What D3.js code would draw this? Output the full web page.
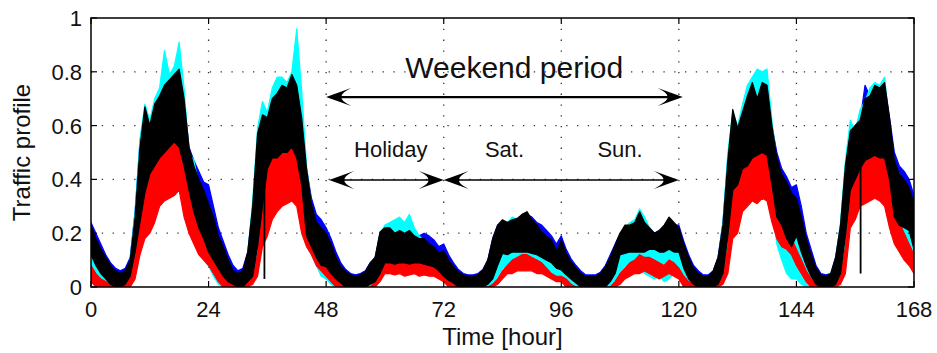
<!DOCTYPE html>
<html>
<head>
<meta charset="utf-8">
<script src="https://cdn.jsdelivr.net/npm/d3@7"></script>
<style>
  body { margin: 0; background: #fff; }
  svg { display: block; font-family: "Liberation Sans", Arial, sans-serif; }
  .tick-label { font-size: 22px; fill: #111; }
  .axis-label { font-size: 24px; fill: #111; }
  .note { font-size: 22px; fill: #111; }
</style>
</head>
<body>
<svg id="chart" width="937" height="353"></svg>
<script>
// hourly envelopes (lo / hi) of each traffic trace, hours 0..168
var blackHi = [
  0.23,0.18,0.14,0.11,0.08,0.06,0.05,0.06,0.10,0.26,0.52,0.67,0.60,0.68,0.71,0.75,0.77,0.79,0.81,0.70,0.52,0.45,0.40,0.36,
  0.31,0.26,0.19,0.15,0.10,0.06,0.05,0.06,0.13,0.30,0.57,0.64,0.63,0.70,0.72,0.75,0.74,0.79,0.75,0.63,0.44,0.31,0.24,0.22,
  0.20,0.16,0.11,0.076,0.057,0.045,0.04,0.045,0.057,0.09,0.11,0.205,0.22,0.22,0.20,0.21,0.20,0.21,0.19,0.18,0.18,0.16,0.15,0.125,
  0.135,0.10,0.076,0.057,0.045,0.04,0.04,0.045,0.063,0.10,0.18,0.23,0.25,0.24,0.25,0.255,0.27,0.28,0.25,0.23,0.205,0.19,0.175,0.135,
  0.175,0.125,0.094,0.07,0.05,0.04,0.04,0.04,0.05,0.076,0.11,0.156,0.20,0.23,0.23,0.24,0.28,0.24,0.22,0.20,0.21,0.23,0.26,0.24,
  0.22,0.16,0.11,0.07,0.05,0.04,0.04,0.06,0.11,0.23,0.47,0.66,0.59,0.65,0.71,0.76,0.70,0.76,0.75,0.60,0.48,0.42,0.39,0.35,
  0.33,0.26,0.18,0.12,0.07,0.045,0.04,0.05,0.11,0.23,0.45,0.58,0.60,0.62,0.70,0.71,0.75,0.74,0.76,0.63,0.47,0.42,0.40,0.37,
  0.31];
var blackLo = [
  0.12,0.08,0.05,0.03,0.01,0.0,0.0,0.01,0.04,0.13,0.24,0.35,0.42,0.45,0.48,0.50,0.52,0.54,0.52,0.45,0.36,0.28,0.22,0.18,
  0.13,0.10,0.07,0.04,0.02,0.01,0.0,0.0,0.02,0.04,0.15,0.30,0.44,0.48,0.48,0.50,0.50,0.52,0.48,0.38,0.19,0.15,0.11,0.08,
  0.076,0.05,0.03,0.015,0.0,0.0,0.0,0.0,0.0,0.01,0.02,0.05,0.09,0.09,0.085,0.09,0.09,0.085,0.09,0.09,0.085,0.08,0.075,0.06,
  0.04,0.025,0.015,0.0,0.0,0.0,0.0,0.0,0.0,0.01,0.03,0.08,0.125,0.12,0.13,0.13,0.13,0.13,0.125,0.12,0.11,0.10,0.09,0.07,
  0.063,0.045,0.03,0.015,0.0,0.0,0.0,0.0,0.0,0.0,0.02,0.05,0.12,0.125,0.13,0.13,0.13,0.13,0.14,0.14,0.13,0.13,0.14,0.13,
  0.13,0.07,0.03,0.01,0.0,0.0,0.0,0.0,0.01,0.05,0.19,0.36,0.38,0.44,0.45,0.48,0.49,0.50,0.49,0.38,0.26,0.23,0.18,0.15,
  0.19,0.13,0.08,0.04,0.01,0.0,0.0,0.0,0.01,0.05,0.19,0.36,0.40,0.44,0.47,0.48,0.49,0.48,0.48,0.40,0.26,0.23,0.22,0.21,
  0.14];
var redHi = [
  0.08,0.05,0.03,0.02,0.01,0.01,0.01,0.02,0.05,0.12,0.24,0.36,0.44,0.47,0.50,0.52,0.54,0.55,0.54,0.46,0.40,0.32,0.25,0.20,
  0.16,0.12,0.08,0.05,0.02,0.01,0.01,0.01,0.02,0.05,0.12,0.30,0.45,0.48,0.49,0.50,0.51,0.52,0.49,0.42,0.30,0.20,0.14,0.10,
  0.08,0.05,0.03,0.01,0.0,0.0,0.0,0.0,0.0,0.0,0.02,0.06,0.10,0.10,0.095,0.10,0.10,0.09,0.10,0.10,0.09,0.085,0.08,0.07,
  0.05,0.03,0.01,0.0,0.0,0.0,0.0,0.0,0.0,0.0,0.01,0.03,0.06,0.08,0.10,0.11,0.12,0.12,0.11,0.10,0.09,0.07,0.05,0.04,
  0.04,0.03,0.01,0.0,0.0,0.0,0.0,0.0,0.0,0.0,0.0,0.02,0.05,0.07,0.09,0.10,0.12,0.11,0.11,0.10,0.09,0.08,0.10,0.09,
  0.07,0.04,0.02,0.01,0.0,0.0,0.0,0.0,0.01,0.04,0.15,0.38,0.42,0.46,0.48,0.50,0.50,0.51,0.50,0.44,0.30,0.26,0.22,0.18,
  0.14,0.10,0.06,0.03,0.01,0.0,0.0,0.0,0.01,0.04,0.15,0.36,0.44,0.46,0.47,0.49,0.50,0.49,0.48,0.42,0.30,0.24,0.20,0.16,
  0.12];
var redLo = [
  0.02,0.0,0.0,0.0,0.0,0.0,0.0,0.0,0.0,0.03,0.12,0.18,0.20,0.24,0.30,0.32,0.33,0.34,0.36,0.26,0.20,0.16,0.12,0.10,
  0.08,0.05,0.02,0.0,0.0,0.0,0.0,0.0,0.0,0.01,0.04,0.15,0.19,0.25,0.28,0.30,0.31,0.32,0.30,0.20,0.15,0.12,0.08,0.06,
  0.04,0.02,0.0,0.0,0.0,0.0,0.0,0.0,0.0,0.0,0.0,0.02,0.05,0.05,0.045,0.05,0.04,0.045,0.05,0.04,0.045,0.04,0.04,0.03,
  0.02,0.0,0.0,0.0,0.0,0.0,0.0,0.0,0.0,0.0,0.0,0.01,0.03,0.05,0.05,0.06,0.06,0.06,0.06,0.05,0.05,0.04,0.03,0.02,
  0.02,0.0,0.0,0.0,0.0,0.0,0.0,0.0,0.0,0.0,0.0,0.0,0.01,0.03,0.04,0.05,0.05,0.06,0.05,0.04,0.03,0.04,0.05,0.04,
  0.03,0.0,0.0,0.0,0.0,0.0,0.0,0.0,0.0,0.01,0.05,0.18,0.20,0.28,0.30,0.32,0.31,0.33,0.32,0.24,0.18,0.15,0.14,0.12,
  0.08,0.05,0.02,0.0,0.0,0.0,0.0,0.0,0.0,0.01,0.05,0.22,0.25,0.30,0.31,0.32,0.33,0.32,0.30,0.22,0.16,0.13,0.10,0.08,
  0.05];
var cyanHi = [
  0.21,0.16,0.12,0.09,0.06,0.04,0.03,0.05,0.10,0.28,0.55,0.68,0.62,0.70,0.74,0.88,0.79,0.82,0.91,0.74,0.50,0.47,0.38,0.33,
  0.28,0.22,0.17,0.12,0.08,0.05,0.04,0.05,0.12,0.32,0.59,0.69,0.65,0.74,0.78,0.78,0.76,0.80,0.96,0.73,0.45,0.30,0.22,0.20,
  0.18,0.14,0.10,0.07,0.05,0.04,0.035,0.04,0.05,0.08,0.10,0.20,0.23,0.24,0.25,0.26,0.24,0.27,0.22,0.19,0.17,0.15,0.14,0.12,
  0.12,0.09,0.07,0.05,0.04,0.035,0.035,0.04,0.06,0.09,0.17,0.22,0.24,0.24,0.26,0.25,0.27,0.26,0.24,0.22,0.19,0.18,0.16,0.13,
  0.16,0.11,0.08,0.06,0.04,0.035,0.035,0.035,0.045,0.07,0.10,0.15,0.19,0.22,0.24,0.25,0.29,0.26,0.22,0.19,0.20,0.22,0.25,0.22,
  0.20,0.14,0.10,0.06,0.04,0.035,0.035,0.05,0.10,0.24,0.50,0.65,0.60,0.68,0.75,0.78,0.81,0.80,0.81,0.62,0.46,0.40,0.36,0.32,
  0.30,0.24,0.16,0.10,0.06,0.04,0.035,0.05,0.10,0.24,0.47,0.62,0.58,0.66,0.69,0.74,0.76,0.75,0.78,0.60,0.46,0.42,0.38,0.36,
  0.30];
var cyanLo = [
  0.05,0.02,0.0,0.0,0.0,0.0,0.0,0.0,0.02,0.10,0.20,0.30,0.40,0.45,0.48,0.50,0.52,0.52,0.50,0.40,0.26,0.20,0.14,0.10,
  0.08,0.04,0.01,0.0,0.0,0.0,0.0,0.0,0.0,0.03,0.18,0.32,0.44,0.48,0.49,0.50,0.50,0.52,0.48,0.36,0.18,0.12,0.08,0.04,
  0.03,0.01,0.0,0.0,0.0,0.0,0.0,0.0,0.0,0.0,0.0,0.03,0.07,0.08,0.08,0.08,0.08,0.08,0.08,0.08,0.07,0.06,0.06,0.04,
  0.02,0.01,0.0,0.0,0.0,0.0,0.0,0.0,0.0,0.0,0.01,0.04,0.07,0.08,0.09,0.09,0.09,0.09,0.08,0.08,0.07,0.06,0.05,0.04,
  0.03,0.01,0.0,0.0,0.0,0.0,0.0,0.0,0.0,0.0,0.0,0.02,0.05,0.08,0.07,0.08,0.07,0.05,0.04,0.03,0.04,0.02,0.03,0.05,
  0.06,0.02,0.0,0.0,0.0,0.0,0.0,0.0,0.0,0.03,0.17,0.36,0.40,0.44,0.45,0.48,0.49,0.50,0.48,0.30,0.16,0.10,0.05,0.03,
  0.03,0.01,0.0,0.0,0.0,0.0,0.0,0.0,0.0,0.03,0.17,0.36,0.40,0.44,0.46,0.47,0.48,0.47,0.46,0.36,0.22,0.18,0.16,0.14,
  0.10];
var blueHi = [
  0.24,0.20,0.16,0.12,0.09,0.07,0.06,0.07,0.11,0.28,0.54,0.66,0.61,0.68,0.71,0.74,0.77,0.79,0.80,0.70,0.52,0.47,0.43,0.39,
  0.38,0.30,0.22,0.17,0.12,0.08,0.06,0.07,0.13,0.30,0.56,0.64,0.62,0.69,0.71,0.74,0.74,0.78,0.75,0.62,0.44,0.33,0.27,0.25,
  0.22,0.18,0.13,0.09,0.065,0.05,0.045,0.05,0.06,0.09,0.11,0.20,0.21,0.21,0.20,0.21,0.20,0.21,0.20,0.19,0.20,0.19,0.175,0.15,
  0.16,0.12,0.09,0.065,0.05,0.045,0.045,0.05,0.065,0.10,0.18,0.23,0.24,0.24,0.25,0.25,0.26,0.27,0.26,0.24,0.23,0.21,0.19,0.16,
  0.19,0.14,0.105,0.08,0.06,0.045,0.045,0.045,0.055,0.08,0.12,0.16,0.20,0.22,0.22,0.23,0.26,0.24,0.22,0.20,0.21,0.22,0.25,0.23,
  0.23,0.17,0.12,0.08,0.06,0.045,0.045,0.06,0.11,0.24,0.48,0.64,0.60,0.64,0.70,0.74,0.69,0.74,0.73,0.60,0.50,0.44,0.41,0.37,
  0.38,0.30,0.20,0.14,0.08,0.05,0.045,0.05,0.11,0.23,0.45,0.58,0.60,0.62,0.75,0.71,0.74,0.73,0.75,0.63,0.50,0.45,0.43,0.40,
  0.34];
var blueLo = [
  0.12,0.08,0.05,0.03,0.01,0.0,0.0,0.01,0.04,0.12,0.24,0.35,0.42,0.45,0.48,0.50,0.52,0.53,0.52,0.45,0.36,0.28,0.22,0.18,
  0.14,0.10,0.07,0.04,0.02,0.01,0.0,0.0,0.02,0.05,0.16,0.30,0.44,0.48,0.48,0.50,0.50,0.52,0.48,0.38,0.20,0.15,0.11,0.08,
  0.076,0.05,0.03,0.015,0.0,0.0,0.0,0.0,0.0,0.01,0.02,0.05,0.09,0.09,0.085,0.09,0.09,0.085,0.09,0.09,0.085,0.08,0.075,0.06,
  0.04,0.025,0.015,0.0,0.0,0.0,0.0,0.0,0.0,0.01,0.03,0.08,0.12,0.12,0.13,0.13,0.13,0.13,0.125,0.12,0.11,0.10,0.09,0.07,
  0.063,0.045,0.03,0.015,0.0,0.0,0.0,0.0,0.0,0.0,0.02,0.05,0.12,0.125,0.13,0.13,0.13,0.13,0.14,0.14,0.13,0.13,0.14,0.13,
  0.13,0.07,0.03,0.01,0.0,0.0,0.0,0.0,0.01,0.05,0.19,0.36,0.38,0.44,0.45,0.48,0.49,0.50,0.49,0.38,0.26,0.23,0.18,0.15,
  0.19,0.13,0.08,0.04,0.01,0.0,0.0,0.0,0.01,0.05,0.19,0.36,0.40,0.44,0.47,0.48,0.49,0.48,0.48,0.40,0.26,0.23,0.22,0.21,
  0.14];

// single-sample dropouts in the black trace
var dipHours = [35.4, 157.1];
var dipValues = [0.03, 0.05];

var xTicks = [0, 24, 48, 72, 96, 120, 144, 168];
var yTicks = [0, 0.2, 0.4, 0.6, 0.8, 1];
var yTickLabels = ['0', '0.2', '0.4', '0.6', '0.8', '1'];

// annotation: hour spans of the arrows and label anchors
var weekendSpan = [48, 120.8];
var holidaySpan = [48.6, 72];
var satSunSpan = [72, 120];
var noteLabels = ['Holiday', 'Sat.', 'Sun.'];
var noteHours = [61.2, 84.4, 108];

var margin = {top: 18, right: 23, bottom: 66, left: 91};
var width = 937 - margin.left - margin.right;
var height = 353 - margin.top - margin.bottom;

var svg = d3.select('#chart');
var g = svg.append('g').attr('transform', 'translate(' + margin.left + ',' + margin.top + ')');

var x = d3.scaleLinear().domain([0, 168]).range([0, width]);
var y = d3.scaleLinear().domain([0, 1]).range([height, 0]);

g.append('clipPath').attr('id', 'plotclip')
  .append('rect').attr('width', width).attr('height', height);

// grid
g.selectAll('.vgrid').data(xTicks.slice(1, -1)).enter().append('line')
  .attr('x1', function(d) { return x(d); }).attr('x2', function(d) { return x(d); })
  .attr('y1', 0).attr('y2', height)
  .style('stroke', '#333').style('stroke-width', 1.3).style('stroke-dasharray', '1.3,9.5');
g.selectAll('.hgrid').data(yTicks.slice(1, -1)).enter().append('line')
  .attr('y1', function(d) { return y(d); }).attr('y2', function(d) { return y(d); })
  .attr('x1', 0).attr('x2', width)
  .style('stroke', '#333').style('stroke-width', 1.3).style('stroke-dasharray', '1.3,9.5');

// traces, drawn as lo/hi bands
var hours = d3.range(169);
var series = [
  {name: 'blue', color: '#0000ff', hi: blueHi, lo: blueLo},
  {name: 'cyan', color: '#00ffff', hi: cyanHi, lo: cyanLo},
  {name: 'red', color: '#ff0000', hi: redHi, lo: redLo},
  {name: 'black', color: '#000000', hi: blackHi, lo: blackLo}
];

var plot = g.append('g').attr('clip-path', 'url(#plotclip)');

series.forEach(function(s) {
  var band = d3.area()
    .x(function(h) { return x(h); })
    .y0(function(h) { return y(s.lo[h]); })
    .y1(function(h) { return y(s.hi[h]); });
  plot.append('path')
    .datum(hours)
    .attr('d', band)
    .style('fill', s.color)
    .style('stroke', s.color)
    .style('stroke-width', 1.2)
    .style('stroke-linejoin', 'round');
});

plot.selectAll('.dip').data(dipHours).enter().append('line')
  .attr('x1', function(d) { return x(d); }).attr('x2', function(d) { return x(d); })
  .attr('y1', function(d, i) { return y(dipValues[i]); })
  .attr('y2', y(0.45))
  .style('stroke', '#000').style('stroke-width', 1.8);

// frame + inward ticks on all four sides
g.append('rect').attr('width', width).attr('height', height)
  .style('fill', 'none').style('stroke', '#000').style('stroke-width', 1.5);

var tickLen = 6;
xTicks.forEach(function(t) {
  g.append('line').attr('x1', x(t)).attr('x2', x(t)).attr('y1', height).attr('y2', height - tickLen)
    .style('stroke', '#000').style('stroke-width', 1.2);
  g.append('line').attr('x1', x(t)).attr('x2', x(t)).attr('y1', 0).attr('y2', tickLen)
    .style('stroke', '#000').style('stroke-width', 1.2);
});
yTicks.forEach(function(t) {
  g.append('line').attr('x1', 0).attr('x2', tickLen).attr('y1', y(t)).attr('y2', y(t))
    .style('stroke', '#000').style('stroke-width', 1.2);
  g.append('line').attr('x1', width).attr('x2', width - tickLen).attr('y1', y(t)).attr('y2', y(t))
    .style('stroke', '#000').style('stroke-width', 1.2);
});

// tick labels
g.selectAll('.xlab').data(xTicks).enter().append('text')
  .attr('class', 'tick-label')
  .attr('x', function(d) { return x(d); })
  .attr('y', height + 30)
  .style('text-anchor', 'middle')
  .text(function(d) { return d; });

g.selectAll('.ylab').data(yTicks).enter().append('text')
  .attr('class', 'tick-label')
  .attr('x', -9)
  .attr('y', function(d) { return y(d) + 8; })
  .style('text-anchor', 'end')
  .text(function(d, i) { return yTickLabels[i]; });

// axis titles
g.append('text').attr('class', 'axis-label')
  .attr('x', width / 2).attr('y', height + 58)
  .style('text-anchor', 'middle')
  .text('Time [hour]');

g.append('text').attr('class', 'axis-label')
  .attr('transform', 'translate(' + (-61) + ',' + (height / 2) + ') rotate(-90)')
  .style('text-anchor', 'middle')
  .text('Traffic profile');

// arrows
function arrowHead(tipX, tipY, dir, len, half) {
  // dir = 1 points right, -1 points left
  var b = tipX - dir * len;
  var n = tipX - dir * len * 0.62;
  return 'M' + tipX + ',' + tipY +
    'L' + b + ',' + (tipY - half) +
    'Q' + (tipX - dir * len * 0.55) + ',' + (tipY - half * 0.35) + ' ' + n + ',' + tipY +
    'Q' + (tipX - dir * len * 0.55) + ',' + (tipY + half * 0.35) + ' ' + b + ',' + (tipY + half) + 'Z';
}

function doubleArrow(span, yv, lw) {
  var x0 = x(span[0]), x1 = x(span[1]), yy = y(yv);
  g.append('line').attr('x1', x0 + 4).attr('x2', x1 - 4).attr('y1', yy).attr('y2', yy)
    .style('stroke', '#000').style('stroke-width', lw);
  g.append('path').attr('d', arrowHead(x0, yy, -1, 25, 9)).style('fill', '#000');
  g.append('path').attr('d', arrowHead(x1, yy, 1, 25, 9)).style('fill', '#000');
}

doubleArrow(weekendSpan, 0.706, 2.2);
doubleArrow(holidaySpan, 0.398, 1.4);
doubleArrow(satSunSpan, 0.398, 1.4);

g.append('text')
  .attr('x', x((weekendSpan[0] + weekendSpan[1]) / 2 + 2))
  .attr('y', y(0.777))
  .style('font-size', '30px').style('fill', '#111')
  .style('text-anchor', 'middle')
  .text('Weekend period');

g.selectAll('.note').data(noteLabels).enter().append('text')
  .attr('class', 'note')
  .attr('x', function(d, i) { return x(noteHours[i]); })
  .attr('y', y(0.483))
  .style('text-anchor', 'middle')
  .text(function(d) { return d; });
</script>
</body>
</html>
